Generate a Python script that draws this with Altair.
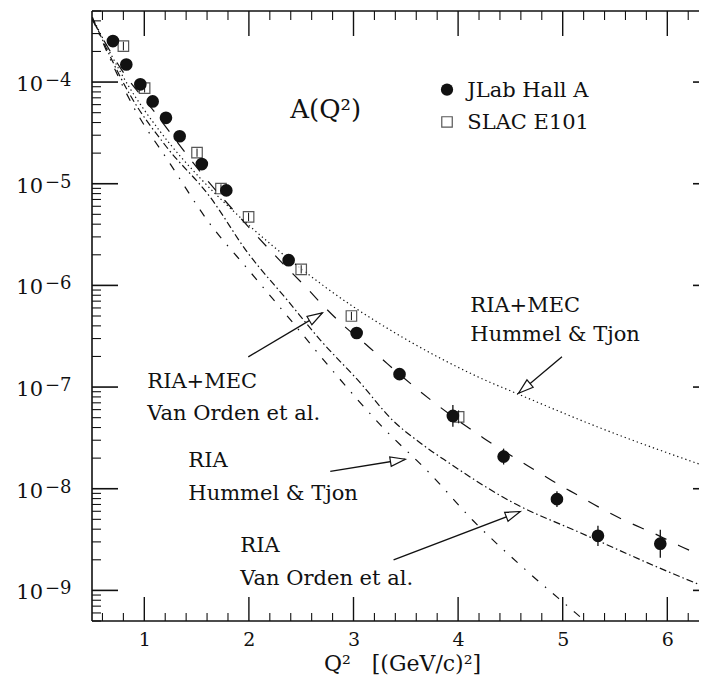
import math
import altair as alt
import pandas as pd

FONT = "DejaVu Serif"
INK = "#111111"

# ---------------- data ----------------
X_MIN, X_MAX = 0.5, 6.303
Y_MIN, Y_MAX = 5e-10, 5e-4
W, H = 607, 610

# JLab Hall A (filled circles)
jlab_q2 = [0.70, 0.828, 0.962, 1.08, 1.207, 1.338, 1.55, 1.784, 2.38, 3.03, 3.44, 3.95, 4.435, 4.945, 5.337, 5.933]
jlab_a = [2.53e-4, 1.49e-4, 9.5e-5, 6.45e-5, 4.45e-5, 2.93e-5, 1.56e-5, 8.6e-6, 1.77e-6, 3.4e-7, 1.34e-7, 5.2e-8, 2.07e-8, 7.9e-9, 3.44e-9, 2.88e-9]
# visible error bars (last points)
jerr_q2 = [3.95, 4.435, 4.945, 5.337, 5.933]
jerr_lo = [4.06e-8, 1.73e-8, 6.6e-9, 2.74e-9, 2.10e-9]
jerr_hi = [6.66e-8, 2.48e-8, 9.45e-9, 4.32e-9, 3.95e-9]

# SLAC E101 (open squares)
slac_q2 = [0.80, 1.003, 1.504, 1.733, 1.997, 2.50, 2.98, 4.005]
slac_a = [2.26e-4, 8.7e-5, 2.02e-5, 8.97e-6, 4.72e-6, 1.44e-6, 5.0e-7, 5.1e-8]
slac_lo = [2.05e-4, 7.9e-5, 1.84e-5, 8.15e-6, 4.29e-6, 1.31e-6, 4.55e-7, 4.4e-8]
slac_hi = [2.49e-4, 9.6e-5, 2.22e-5, 9.87e-6, 5.19e-6, 1.58e-6, 5.5e-7, 5.9e-8]

# RIA+MEC Hummel & Tjon (dotted)
mec_ht_q2 = [0.503, 0.857, 1.143, 1.554, 1.946, 2.491, 2.989, 3.447, 4.212, 4.594, 5.359, 6.382]
mec_ht_a = [4.33e-4, 8.87e-5, 3.35e-5, 1.08e-5, 4.38e-6, 1.48e-6, 6.26e-7, 3.18e-7, 1.23e-7, 8.36e-8, 3.96e-8, 1.64e-8]

# RIA+MEC Van Orden et al. (long dashed)
mec_vo_q2 = [0.5, 0.63, 0.771, 1.115, 1.249, 1.44, 1.602, 1.774, 2.0, 2.329, 2.539, 2.711, 2.922,
             3.141, 3.323, 3.743, 4.241, 4.642, 4.9, 5.12, 5.379, 5.608, 5.876, 6.115, 6.38]
mec_vo_a = [4.17e-4, 2.4e-4, 1.38e-4, 4.82e-5, 3.16e-5, 1.74e-5, 1.08e-5, 6.76e-6, 3.72e-6, 1.62e-6, 9.77e-7,
            6.31e-7, 3.89e-7, 2.51e-7, 1.7e-7, 7.41e-8, 3.16e-8, 1.74e-8, 1.2e-8, 8.91e-9, 6.31e-9, 4.79e-9,
            3.63e-9, 2.75e-9, 2.09e-9]

# RIA Van Orden et al. (dash-dot, flattening)
ria_vo_q2 = [0.503, 0.866, 1.2, 1.631, 1.985, 2.367, 2.683, 3.065, 3.371, 3.639, 3.897, 4.528, 5.168, 5.962, 6.382]
ria_vo_a = [4.33e-4, 7.4e-5, 2.39e-5, 7.36e-6, 2.12e-6, 7.16e-7, 2.9e-7, 1.1e-7, 4.75e-8, 2.82e-8, 1.84e-8,
            7.27e-9, 3.69e-9, 1.6e-9, 1.06e-9]

# RIA Hummel & Tjon (dash-dot, steep)
ria_ht_q2 = [0.503, 0.904, 1.249, 1.602, 2.014, 2.415, 2.826, 3.275, 3.734, 4.145, 4.623, 5.12, 5.264]
ria_ht_a = [4.23e-4, 5.52e-5, 1.56e-5, 4.38e-6, 1.35e-6, 4.36e-7, 1.35e-7, 4.06e-8, 1.4e-8, 4.84e-9,
            1.67e-9, 6.04e-10, 4.5e-10]

# annotations
ann_text = ["RIA+MEC", "Hummel & Tjon", "RIA+MEC", "Van Orden et al.", "RIA", "Hummel & Tjon", "RIA", "Van Orden et al."]
ann_q2 = [4.117, 4.117, 1.029, 1.029, 1.421, 1.421, 1.918, 1.918]
ann_a = [5.47e-7, 2.84e-7, 9.8e-8, 4.75e-8, 1.64e-8, 7.78e-9, 2.4e-9, 1.14e-9]

arrow_tail_q2 = [1.994, 4.993, 2.778, 3.383]
arrow_tail_a = [1.98e-7, 1.99e-7, 1.48e-8, 2.0e-9]
arrow_tip_q2 = [2.702, 4.578, 3.495, 4.595]
arrow_tip_a = [5.36e-7, 8.7e-8, 1.95e-8, 5.97e-9]

title_text = ["A(Q²)"]
title_q2 = [2.396]
title_a = [4.4e-5]

legend_labels = ["JLab Hall A", "SLAC E101"]
legend_sym_q2 = [3.894, 3.894]
legend_sym_a = [8.42e-5, 4.05e-5]
legend_txt_q2 = [4.088, 4.088]
legend_txt_a = [7.08e-5, 3.48e-5]

# ticks
x_major = [1, 2, 3, 4, 5, 6]
x_minor = [round(0.6 + 0.2 * i, 1) for i in range(29) if abs((0.6 + 0.2 * i) - round(0.6 + 0.2 * i)) > 1e-6]
y_major = [1e-9, 1e-8, 1e-7, 1e-6, 1e-5, 1e-4]
y_exp_labels = ["−9", "−8", "−7", "−6", "−5", "−4"]
y_minor = [k * 10.0 ** e for e in range(-10, -3) for k in range(2, 10) if Y_MIN <= k * 10.0 ** e <= Y_MAX]

X_TITLE = "Q²\u00a0\u00a0\u00a0[(GeV/c)²]"

# ---------------- helpers ----------------
xs = alt.Scale(domain=[X_MIN, X_MAX], nice=False, zero=False)
ys = alt.Scale(type="log", domain=[Y_MIN, Y_MAX], nice=False)

x_axis = alt.Axis(values=x_major, format="d", tickSize=0, domain=False, grid=False,
                  labelFont=FONT, labelFontSize=19, labelColor=INK, labelPadding=9,
                  title=X_TITLE, titleFont=FONT, titleFontSize=22, titleX=310, titleAlign="center",
                  titleFontWeight="normal", titleColor=INK, titlePadding=4)


def X(f):
    return alt.X(f, type="quantitative", scale=xs, axis=x_axis)


def Y(f):
    return alt.Y(f, type="quantitative", scale=ys, axis=None)


def px(q):
    return (q - X_MIN) / (X_MAX - X_MIN) * W


def py(a):
    return (math.log10(Y_MAX) - math.log10(a)) / (math.log10(Y_MAX) - math.log10(Y_MIN)) * H


layers = []


def curve(q, a, dash):
    df = pd.DataFrame({"q": q, "a": a})
    return alt.Chart(df).mark_line(color=INK, strokeWidth=1.2, strokeDash=dash,
                                   interpolate="monotone", clip=True).encode(x=X("q"), y=Y("a"))


layers.append(curve(mec_ht_q2, mec_ht_a, [1.3, 3]))
layers.append(curve(mec_vo_q2, mec_vo_a, [12, 13]))
layers.append(curve(ria_vo_q2, ria_vo_a, [7, 3, 1.5, 3]))
layers.append(curve(ria_ht_q2, ria_ht_a, [8, 9, 1.5, 9]))

# SLAC squares + inner error bars
slac_df = pd.DataFrame({"q": slac_q2, "a": slac_a, "lo": slac_lo, "hi": slac_hi})
layers.append(alt.Chart(slac_df).mark_point(shape="square", size=110, filled=True, fill="white",
                                             stroke=INK, strokeWidth=1.2).encode(x=X("q"), y=Y("a")))
layers.append(alt.Chart(slac_df).mark_rule(color=INK, strokeWidth=1).encode(x=X("q"), y=Y("lo"), y2="hi"))

# JLab circles + error bars
jerr_df = pd.DataFrame({"q": jerr_q2, "lo": jerr_lo, "hi": jerr_hi})
layers.append(alt.Chart(jerr_df).mark_rule(color=INK, strokeWidth=1.3).encode(x=X("q"), y=Y("lo"), y2="hi"))
jlab_df = pd.DataFrame({"q": jlab_q2, "a": jlab_a})
layers.append(alt.Chart(jlab_df).mark_point(shape="circle", size=160, filled=True, color=INK,
                                             opacity=1).encode(x=X("q"), y=Y("a")))

# legend
leg_sym_df = pd.DataFrame({"q": legend_sym_q2, "a": legend_sym_a})
layers.append(alt.Chart(leg_sym_df.iloc[[0]]).mark_point(shape="circle", size=150, filled=True, color=INK,
                                                          opacity=1).encode(x=X("q"), y=Y("a")))
layers.append(alt.Chart(leg_sym_df.iloc[[1]]).mark_point(shape="square", size=110, filled=True, fill="white",
                                                          stroke=INK, strokeWidth=1.2).encode(x=X("q"), y=Y("a")))
leg_txt_df = pd.DataFrame({"q": legend_txt_q2, "a": legend_txt_a, "t": legend_labels})
layers.append(alt.Chart(leg_txt_df).mark_text(align="left", baseline="alphabetic", font=FONT, fontSize=21,
                                               color=INK).encode(x=X("q"), y=Y("a"), text="t:N"))

# big label A(Q^2)
ttl_df = pd.DataFrame({"q": title_q2, "a": title_a, "t": title_text})
layers.append(alt.Chart(ttl_df).mark_text(align="left", baseline="alphabetic", font=FONT, fontSize=26,
                                           color=INK).encode(x=X("q"), y=Y("a"), text="t:N"))

# annotations
ann_df = pd.DataFrame({"q": ann_q2, "a": ann_a, "t": ann_text})
layers.append(alt.Chart(ann_df).mark_text(align="left", baseline="alphabetic", font=FONT, fontSize=21,
                                           color=INK).encode(x=X("q"), y=Y("a"), text="t:N"))

# arrows
angles = []
for tq, ta, hq, ha in zip(arrow_tail_q2, arrow_tail_a, arrow_tip_q2, arrow_tip_a):
    dx = px(hq) - px(tq)
    dy = py(ha) - py(ta)
    angles.append(math.degrees(math.atan2(dx, -dy)) % 360)
arr_df = pd.DataFrame({"tq": arrow_tail_q2, "ta": arrow_tail_a, "hq": arrow_tip_q2, "ha": arrow_tip_a,
                       "ang": angles})
layers.append(alt.Chart(arr_df).mark_rule(color=INK, strokeWidth=1.3).encode(
    x=X("tq"), y=Y("ta"), x2="hq", y2="ha"))
layers.append(alt.Chart(arr_df).mark_point(shape="M0,0L-0.32,1L0.32,1Z", size=900, filled=True,
                                            fill="white", stroke=INK, strokeWidth=1.2, opacity=1).encode(
    x=X("hq"), y=Y("ha"), angle=alt.Angle("ang:Q", scale=None)))

# frame (left, top, bottom; right side lies beyond the visible page)
layers.append(alt.Chart().mark_rule(color=INK, strokeWidth=1.6).encode(
    x=alt.value(0), y=alt.value(0), y2=alt.value(H)))
layers.append(alt.Chart().mark_rule(color=INK, strokeWidth=1.6).encode(
    x=alt.value(0), x2=alt.value(W), y=alt.value(0)))
layers.append(alt.Chart().mark_rule(color=INK, strokeWidth=1.6).encode(
    x=alt.value(0), x2=alt.value(W), y=alt.value(H)))

# ticks (inward)
ymaj_df = pd.DataFrame({"a": y_major, "e": y_exp_labels})
ymin_df = pd.DataFrame({"a": y_minor})
xmaj_df = pd.DataFrame({"q": x_major})
xmin_df = pd.DataFrame({"q": x_minor})
layers.append(alt.Chart(ymaj_df).mark_rule(color=INK, strokeWidth=1.6).encode(
    y=Y("a"), x=alt.value(0), x2=alt.value(26)))
layers.append(alt.Chart(ymaj_df).mark_rule(color=INK, strokeWidth=1.6).encode(
    y=Y("a"), x=alt.value(W - 6), x2=alt.value(W)))
layers.append(alt.Chart(ymin_df).mark_rule(color=INK, strokeWidth=1.1).encode(
    y=Y("a"), x=alt.value(0), x2=alt.value(9)))
layers.append(alt.Chart(xmaj_df).mark_rule(color=INK, strokeWidth=1.4).encode(
    x=X("q"), y=alt.value(H), y2=alt.value(H - 24)))
layers.append(alt.Chart(xmaj_df).mark_rule(color=INK, strokeWidth=1.4).encode(
    x=X("q"), y=alt.value(0), y2=alt.value(25)))
layers.append(alt.Chart(xmin_df).mark_rule(color=INK, strokeWidth=1.1).encode(
    x=X("q"), y=alt.value(H), y2=alt.value(H - 8)))
layers.append(alt.Chart(xmin_df).mark_rule(color=INK, strokeWidth=1.1).encode(
    x=X("q"), y=alt.value(0), y2=alt.value(9)))

# y tick labels: "10" + exponent
layers.append(alt.Chart(ymaj_df).mark_text(align="right", baseline="alphabetic", font=FONT, fontSize=21,
                                            color=INK, dy=9, text="10").encode(y=Y("a"), x=alt.value(-49)))
layers.append(alt.Chart(ymaj_df).mark_text(align="left", baseline="alphabetic", font=FONT, fontSize=18,
                                            color=INK, dy=4).encode(y=Y("a"), x=alt.value(-47), text="e:N"))

chart = alt.layer(*layers).properties(
    width=W, height=H,
    padding={"left": 84, "top": 3, "right": 0, "bottom": 58},
    autosize=alt.AutoSizeParams(type="none"),
    background="white",
).configure_view(strokeWidth=0)

chart.save("out.html", embed_options={"renderer": "svg", "actions": False})
